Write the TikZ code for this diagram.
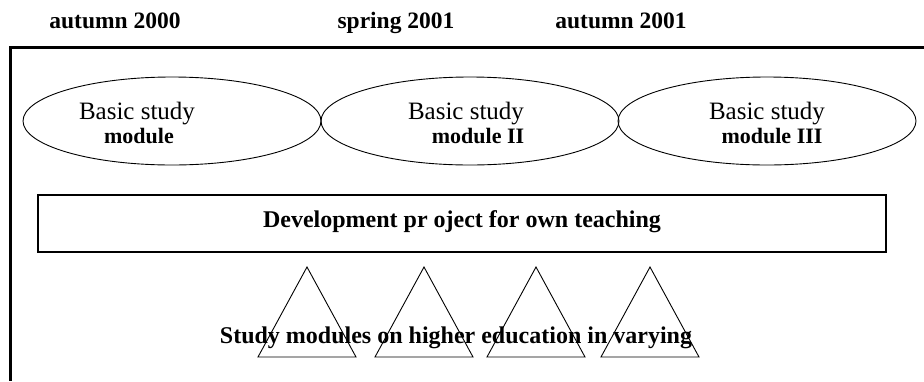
\documentclass[tikz,border=0pt]{standalone}
\usepackage{fontspec}
\setmainfont{Liberation Serif}
\newfontfamily\plainface{Liberation Serif}
\newfontfamily\boldface{Liberation Serif Bold}
\usetikzlibrary{shapes.geometric}
\begin{document}
\begin{tikzpicture}[x=1pt,y=-1pt,
  heading/.style={font=\boldface\fontsize{23.5}{25}\selectfont,anchor=base,inner sep=0pt},
  period/.style={draw,ellipse,line width=0.9pt,minimum width=298pt,minimum height=88pt,inner sep=0pt},
  titleline/.style={font=\plainface\fontsize{25}{27}\selectfont,anchor=base,inner sep=0pt},
  subline/.style={font=\boldface\fontsize{22}{24}\selectfont,anchor=base,inner sep=0pt},
  project/.style={draw,line width=1.3pt,minimum width=848pt,minimum height=57pt,inner sep=0pt},
  banner/.style={font=\boldface\fontsize{24}{26}\selectfont,anchor=base,inner sep=0pt},
  wedge/.style={draw,line width=0.9pt,line join=miter}]
\useasboundingbox (0,0) rectangle (924,381);
\fill[white] (0,0) rectangle (924,381);

% semester headings
\node[heading] (h1) at (115,28) {autumn 2000};
\node[heading] (h2) at (396,28) {spring 2001};
\node[heading] (h3) at (621,28) {autumn 2001};

% open frame
\coordinate (fr) at (924,47);
\coordinate (fc) at (10,47);
\coordinate (fb) at (10,381);
\draw[line width=3pt] (fr) -- (fc) -- (fb);

% basic study modules
\node[period] (m1) at (172,121) {};
\node[period] (m2) at (470,121) {};
\node[period] (m3) at (767,121) {};
\node[titleline] (m1a) at (137,119) {Basic study};
\node[subline] (m1b) at (139,143) {module};
\node[titleline] (m2a) at (466,119) {Basic study};
\node[subline] (m2b) at (478,143) {module II};
\node[titleline] (m3a) at (767,119) {Basic study};
\node[subline] (m3b) at (772,143) {module III};

% development project
\node[project] (dp) at (462,223.5) {};
\node[banner] (dpt) at (462,227) {Development pr oject for own teaching};

% study module triangles
\foreach \ax/\nm in {307/t1,424/t2,536/t3,650/t4}{
  \coordinate (\nm-top) at (\ax,267);
  \coordinate (\nm-l) at (\ax-49,357);
  \coordinate (\nm-r) at (\ax+49,357);
  \draw[wedge] (\nm-top) -- (\nm-r) -- (\nm-l) -- cycle;
}
\node[banner] (sm) at (456,343) {Study modules on higher education in varying};
\end{tikzpicture}
\end{document}
